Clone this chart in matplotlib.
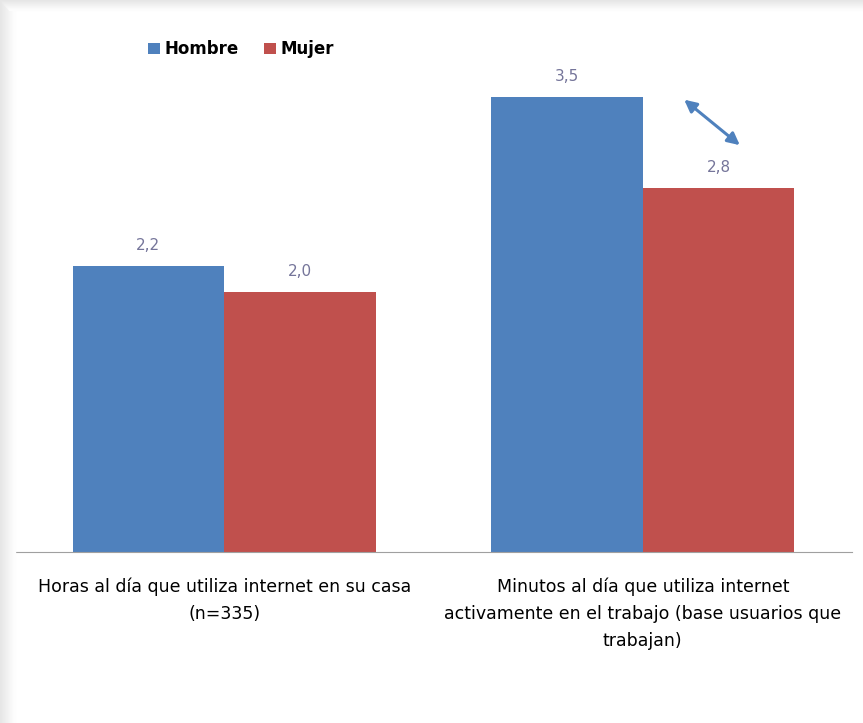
import numpy as np
import matplotlib.pyplot as plt
from matplotlib.patches import Rectangle

categorias = ["Horas al día que utiliza internet en su casa\n(n=335)",
              "Minutos al día que utiliza internet\nactivamente en el trabajo (base usuarios que\ntrabajan)"]
hombre = [2.2, 3.5]
mujer = [2.0, 2.8]
etiquetas_h = ["2,2", "3,5"]
etiquetas_m = ["2,0", "2,8"]

azul = '#4f81bd'
rojo = '#c0504d'

plt.rcParams['font.family'] = ['Liberation Sans Narrow', 'DejaVu Sans']

fig = plt.figure(figsize=(8.63, 7.23), dpi=100, facecolor='white')

# sombra gris en el borde izquierdo y superior
for i in range(15):
    c = 0.90 + 0.1 * i / 15
    fig.patches.append(Rectangle((i / 863, 0), 1 / 863, 1, transform=fig.transFigure,
                                 color=(c, c, c), zorder=0))
for i in range(10):
    c = 0.90 + 0.1 * i / 10
    fig.patches.append(Rectangle((i / 863, 1 - (i + 1) / 723), 1, 1 / 723,
                                 transform=fig.transFigure, color=(c, c, c), zorder=0))

ax = fig.add_axes([15 / 863, 171 / 723, 837 / 863, 542 / 723])
ax.set_facecolor('none')

x = np.arange(len(categorias))
w = 0.3625
ax.bar(x - w / 2, hombre, w, color=azul, label='Hombre')
ax.bar(x + w / 2, mujer, w, color=rojo, label='Mujer')

for xi, v, t in zip(x - w / 2, hombre, etiquetas_h):
    ax.text(xi, v + 0.1, t, ha='center', va='bottom', fontsize=11, color='#75759a')
for xi, v, t in zip(x + w / 2, mujer, etiquetas_m):
    ax.text(xi, v + 0.1, t, ha='center', va='bottom', fontsize=11, color='#75759a')

ax.set_xlim(-0.5, 1.5)
ax.set_ylim(0, 4.17)
ax.set_xticks(x)
ax.set_xticklabels(categorias, fontsize=12.5, linespacing=1.65)
ax.tick_params(axis='x', length=0, pad=18)
ax.set_yticks([])
for s in ['top', 'right', 'left']:
    ax.spines[s].set_visible(False)
ax.spines['bottom'].set_color('#a0a0a0')

ax.annotate('', xy=(1.232, 3.13), xytext=(1.099, 3.48),
            arrowprops=dict(arrowstyle='<|-|>', color=azul, lw=2.2, mutation_scale=18,
                            shrinkA=0, shrinkB=0))

ax.legend(loc='upper left', bbox_to_anchor=(0.141, 0.972), ncol=2, frameon=False,
          handlelength=0.7, handleheight=0.7, handletextpad=0.3, columnspacing=1.5,
          prop={'weight': 'bold', 'size': 12})

plt.savefig('out.png', dpi=100, facecolor='white')
